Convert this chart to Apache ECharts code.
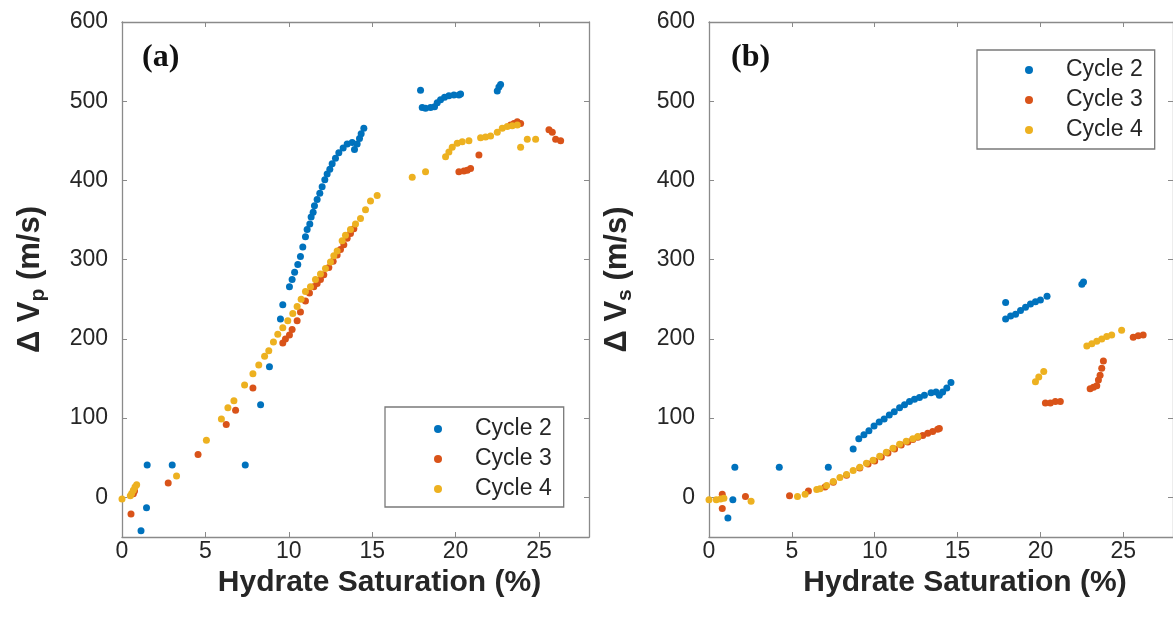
<!DOCTYPE html>
<html>
<head>
<meta charset="utf-8">
<script src="https://cdn.jsdelivr.net/npm/echarts@6/dist/echarts.min.js"></script>
<style>html,body{margin:0;padding:0;background:#fff;}#c{width:1173px;height:620px;}</style>
</head>
<body>
<div id="c"></div>
<script>
// ---- data (x = hydrate saturation %, y = delta velocity m/s) ----
const seriesNames = ['Cycle 2', 'Cycle 3', 'Cycle 4'];
const xTicks = [0, 5, 10, 15, 20, 25];
const yTicks = [0, 100, 200, 300, 400, 500, 600];

// Panel (a): delta Vp
const vpCycle2 = [[1.14,-42],[1.47,-13],[1.51,41],[3.01,41],[7.39,41],[8.31,117],[8.84,165],[9.5,225],[9.64,243],[10.04,266],[10.2,275],[10.35,284],[10.54,294],[10.7,304],[10.84,316],[11.0,329],[11.1,338],[11.26,345],[11.34,354],[11.46,360],[11.54,368],[11.7,376],[11.86,384],[12.0,392],[12.16,401],[12.3,408],[12.46,414],[12.6,421],[12.8,428],[13.0,435],[13.26,441],[13.5,446],[13.8,448],[13.94,439],[14.1,446],[14.24,453],[14.34,459],[14.5,466],[17.9,514],[18.0,492],[18.2,491],[18.5,492],[18.74,493],[18.9,498],[19.1,502],[19.34,505],[19.6,507],[19.9,508],[20.2,508],[20.3,509],[22.5,513],[22.6,518],[22.7,521]];
const vpCycle3 = [[0.54,-21],[0.68,4.5],[0.75,8],[2.77,18],[4.56,54],[6.25,92],[6.81,110],[7.85,138],[9.64,195],[9.8,200],[10.04,205],[10.2,212],[10.5,223],[10.7,234],[11.0,248],[11.24,258],[11.5,266],[11.7,270],[11.9,275],[12.1,281],[12.4,290],[12.66,298],[12.9,306],[13.1,313],[13.3,319],[13.5,327],[13.7,333],[13.9,339],[20.2,411],[20.5,412],[20.7,413],[20.9,415],[21.4,432],[23.3,470],[23.5,472],[23.7,474],[23.9,472],[25.6,464],[25.8,461],[26.0,452],[26.3,450]];
const vpCycle4 = [[0,-2],[0.5,2],[0.58,5],[0.68,9],[0.78,13],[0.88,16],[3.27,27],[5.06,72],[5.96,99],[6.35,113],[6.71,122],[7.35,142],[7.85,156],[8.2,167],[8.55,178],[8.8,185],[9.08,196],[9.34,206],[9.64,214],[9.94,223],[10.24,232],[10.5,241],[10.74,250],[11.0,260],[11.3,266],[11.6,275],[11.9,282],[12.2,289],[12.5,297],[12.7,305],[12.9,311],[13.2,324],[13.4,331],[13.7,338],[14.0,345],[14.3,352],[14.6,363],[14.9,374],[15.3,381],[17.4,404],[18.2,411],[19.4,430],[19.6,436],[19.8,442],[20.1,447],[20.4,449],[20.8,450],[21.5,454],[21.8,455],[22.1,456],[22.5,461],[22.8,466],[23.1,468],[23.4,469],[23.7,470],[23.9,442],[24.3,452],[24.8,452]];

// Panel (b): delta Vs
const vsCycle2 = [[1.14,-26],[1.44,-3],[1.56,38],[4.24,38],[7.2,38],[8.7,61],[9.04,74],[9.35,79],[9.65,84],[9.96,90],[10.27,95],[10.57,99],[10.88,104],[11.18,108],[11.5,113],[11.8,117],[12.1,121],[12.4,124],[12.7,126],[13.0,129],[13.4,132],[13.7,133],[13.9,129],[14.1,133],[14.35,138],[14.6,145],[17.9,246],[17.9,225],[18.2,229],[18.5,231],[18.8,236],[19.1,240],[19.4,244],[19.7,247],[20.0,249],[20.4,254],[22.5,269],[22.6,272]];
const vsCycle3 = [[0.8,4],[0.8,-14],[2.2,1],[4.86,2],[6.0,8],[7.0,13],[7.5,19],[8.3,28],[9.1,37],[9.6,42],[10.0,46],[10.4,51],[10.8,56],[11.2,61],[11.6,66],[12.0,70],[12.3,73],[12.6,76],[12.9,78],[13.2,81],[13.5,83],[13.8,86],[13.9,87],[20.3,119],[20.6,119],[20.9,121],[21.2,121],[23.0,137],[23.2,139],[23.4,141],[23.5,148],[23.6,154],[23.7,163],[23.8,172],[25.6,202],[25.9,204],[26.2,205]];
const vsCycle4 = [[0,-3],[0.44,-3],[0.7,-2],[0.9,-1],[2.54,-5],[5.34,1],[5.8,4],[6.5,10],[6.7,11],[7.1,15],[7.5,20],[7.9,25],[8.3,29],[8.7,34],[9.1,38],[9.5,43],[9.9,47],[10.3,52],[10.7,57],[11.1,62],[11.5,67],[11.9,71],[12.3,74],[12.6,77],[19.7,146],[19.9,152],[20.2,159],[22.8,191],[23.1,194],[23.4,197],[23.7,200],[24.0,203],[24.3,205],[24.9,211]];

const colors = ['#0072BD', '#D95319', '#EDB120'];
const boxColor = '#8a8a8a';
const txtColor = '#262626';
const font = 'Liberation Sans, Arial, sans-serif';

function xAxes(gi) {
  return [
    { type:'value', gridIndex:gi, min:0, max:28, position:'bottom',
      name:'Hydrate Saturation (%)', nameLocation:'middle', nameGap:28,
      nameTextStyle:{fontFamily:font, fontWeight:'bold', fontSize:30, color:txtColor, padding:[0,0,0,48]},
      axisLine:{show:true, onZero:false, lineStyle:{color:boxColor, width:1.3}},
      axisTick:{show:true, inside:true, length:5, customValues:xTicks, lineStyle:{color:boxColor}},
      axisLabel:{show:true, customValues:xTicks, margin:3, fontFamily:font, fontSize:23, color:txtColor},
      splitLine:{show:false} },
    { type:'value', gridIndex:gi, min:0, max:28, position:'top',
      axisLine:{show:true, onZero:false, lineStyle:{color:boxColor, width:1.3}},
      axisTick:{show:true, inside:true, length:5, customValues:xTicks, lineStyle:{color:boxColor}},
      axisLabel:{show:false}, splitLine:{show:false} }
  ];
}
function yAxes(gi, sub) {
  return [
    { type:'value', gridIndex:gi, min:-50, max:600, position:'left',
      name:'{a|\u0394 V}{s|' + sub + '}{a| (m/s)}', nameLocation:'middle', nameGap:72, nameRotate:90,
      nameTextStyle:{ color:txtColor, rich:{
        a:{fontFamily:font, fontWeight:'bold', fontSize:31, color:txtColor, lineHeight:40},
        s:{fontFamily:font, fontWeight:'bold', fontSize:21, color:txtColor, lineHeight:40, padding:[16,0,0,0]} } },
      axisLine:{show:true, onZero:false, lineStyle:{color:boxColor, width:1.3}},
      axisTick:{show:true, inside:true, length:5, customValues:yTicks, lineStyle:{color:boxColor}},
      axisLabel:{show:true, customValues:yTicks, margin:14, fontFamily:font, fontSize:23, color:txtColor},
      splitLine:{show:false} },
    { type:'value', gridIndex:gi, min:-50, max:600, position:'right',
      axisLine:{show:true, onZero:false, lineStyle:{color:boxColor, width:1.3}},
      axisTick:{show:true, inside:true, length:5, customValues:yTicks, lineStyle:{color:boxColor}},
      axisLabel:{show:false}, splitLine:{show:false} }
  ];
}
function scatter(name, data, idx, gi) {
  return { type:'scatter', name:name, data:data, xAxisIndex:gi*2, yAxisIndex:gi*2,
    symbol:'circle', symbolSize:7, itemStyle:{color:colors[idx], opacity:1}, silent:true, animation:false };
}
function legend(left, top, pad) {
  return { show:true, orient:'vertical', left:left, top:top, padding:pad,
    itemWidth:8, itemHeight:8, itemGap:6, icon:'circle', selectedMode:false,
    backgroundColor:'#fff', borderColor:'#7a7a7a', borderWidth:1.3,
    data:seriesNames,
    textStyle:{fontFamily:font, fontSize:23, color:txtColor, lineHeight:24, padding:[0,0,0,28]} };
}

const chart = echarts.init(document.getElementById('c'), null, {renderer:'canvas'});
chart.setOption({
  animation:false,
  backgroundColor:'#fff',
  grid:[
    {left:122, top:22, width:467, height:515, containLabel:false},
    {left:709, top:22, width:468, height:515, containLabel:false}
  ],
  xAxis: xAxes(0).concat(xAxes(1)),
  yAxis: yAxes(0, 'p').concat(yAxes(1, 's')),
  legend:[ legend(385, 407, [10,12,6,49]), legend(977, 50, [8,12,7,48]) ],
  graphic:[
    {type:'text', left:142, top:42, style:{text:'(a)', font:'bold 32px "Liberation Serif", "Times New Roman", serif', fill:'#111'}},
    {type:'text', left:731, top:42, style:{text:'(b)', font:'bold 32px "Liberation Serif", "Times New Roman", serif', fill:'#111'}}
  ],
  series:[
    scatter(seriesNames[0], vpCycle2, 0, 0),
    scatter(seriesNames[1], vpCycle3, 1, 0),
    scatter(seriesNames[2], vpCycle4, 2, 0),
    scatter(seriesNames[0], vsCycle2, 0, 1),
    scatter(seriesNames[1], vsCycle3, 1, 1),
    scatter(seriesNames[2], vsCycle4, 2, 1)
  ]
});
</script>
</body>
</html>
